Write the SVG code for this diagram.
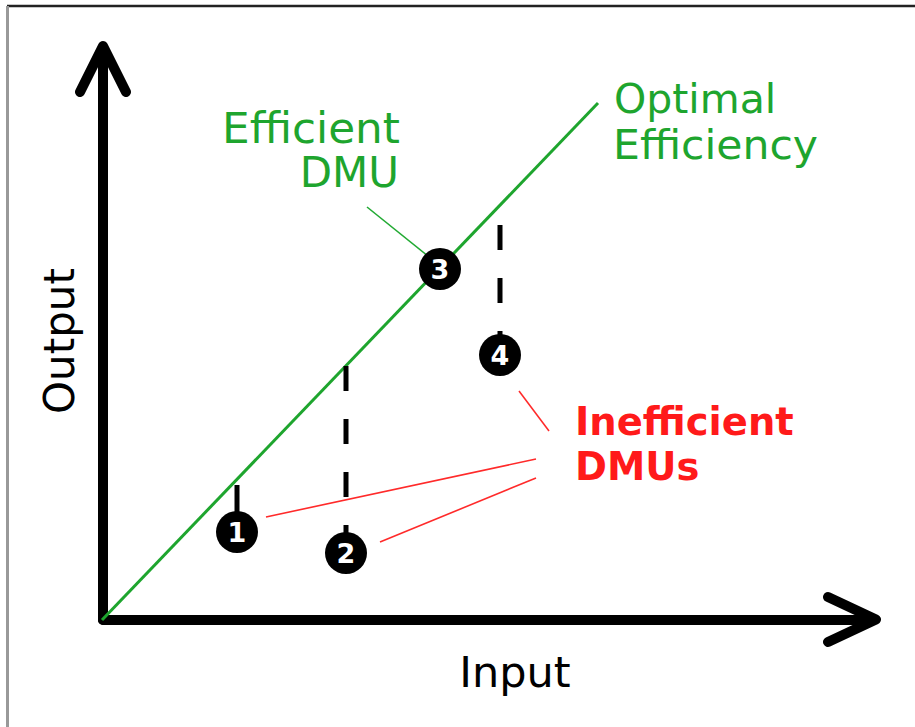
<svg xmlns="http://www.w3.org/2000/svg" width="915" height="727" viewBox="0 0 915 727">
<style>
.axis{stroke:#000;stroke-width:10;stroke-linecap:round;stroke-linejoin:round;fill:none}
.dash{stroke:#000;stroke-width:5;stroke-dasharray:25 28;fill:none}
.lead-r{stroke:#ff2a2a;stroke-width:1.6;fill:none}
.lead-g{stroke:#22aa33;stroke-width:1.6;fill:none}
.lbl{font-family:"DejaVu Sans",Verdana,sans-serif}
.num{font-family:"DejaVu Sans",sans-serif;font-weight:bold;font-size:27px;fill:#fff;text-anchor:middle}
.green{fill:#1ea52e;font-size:42px}
.red{fill:#ff1a1a;font-size:38.5px;font-weight:bold}
</style>
<rect width="915" height="727" fill="#fff"/>
<g id="frame">
<line x1="7" y1="6" x2="915" y2="6" stroke="#222" stroke-width="2.5"/>
<line x1="7.5" y1="6" x2="7.5" y2="727" stroke="#999" stroke-width="3"/>
</g>
<g id="axes">
<path class="axis" d="M103,620 V48 M80,92 L103,46 L126,92"/>
<path class="axis" d="M103,620 H874 M828,597 L876,619.5 L828,642"/>
<text class="lbl" x="515" y="687" font-size="43" text-anchor="middle" fill="#000">Input</text>
<text class="lbl" transform="translate(74,341) rotate(-90)" font-size="42" text-anchor="middle" fill="#000">Output</text>
</g>
<g id="connectors">
<line x1="102" y1="620" x2="598" y2="103" stroke="#1ea52e" stroke-width="3"/>
<line class="dash" x1="346" y1="366" x2="346" y2="535"/>
<line class="dash" x1="500" y1="225" x2="500" y2="338"/>
<line x1="237" y1="485" x2="237" y2="514" stroke="#000" stroke-width="5"/>
<line class="lead-g" x1="367" y1="207" x2="428" y2="256"/>
<line class="lead-r" x1="266" y1="517" x2="536" y2="459"/>
<line class="lead-r" x1="380" y1="542" x2="536" y2="478"/>
<line class="lead-r" x1="519" y1="391" x2="549" y2="431"/>
</g>
<g id="node1"><circle cx="237" cy="532" r="21"/><text class="num" x="237" y="542">1</text></g>
<g id="node2"><circle cx="346" cy="553" r="21"/><text class="num" x="346" y="563">2</text></g>
<g id="node3"><circle cx="440" cy="269" r="21"/><text class="num" x="440" y="279">3</text></g>
<g id="node4"><circle cx="500" cy="355" r="21"/><text class="num" x="500" y="365">4</text></g>
<g id="label-efficient">
<text class="lbl green" x="400" y="143" text-anchor="end" textLength="178" lengthAdjust="spacingAndGlyphs">Efficient</text>
<text class="lbl green" x="399" y="187" text-anchor="end">DMU</text>
</g>
<g id="label-optimal">
<text class="lbl green" x="614" y="113" style="font-size:41px">Optimal</text>
<text class="lbl green" x="613" y="159" style="font-size:41px" textLength="205" lengthAdjust="spacingAndGlyphs">Efficiency</text>
</g>
<g id="label-inefficient">
<text class="lbl red" x="575" y="435">Inefficient</text>
<text class="lbl red" x="575" y="480">DMUs</text>
</g>
</svg>
